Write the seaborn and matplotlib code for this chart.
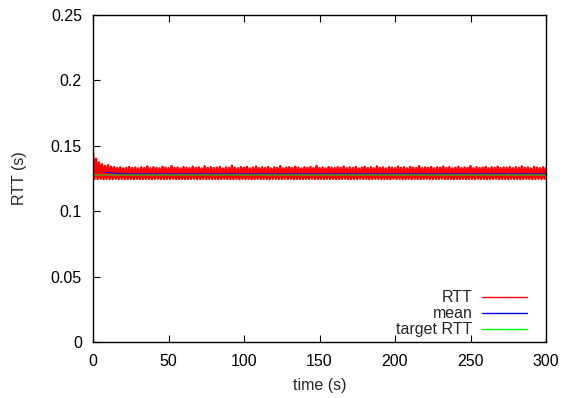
import numpy as np
import pandas as pd
import seaborn as sns
import matplotlib
matplotlib.use("Agg")
import matplotlib.pyplot as plt
from matplotlib.lines import Line2D

# ---- data ----
# RTT upper peaks, one every 2 s from t=0 to t=300
rtt_peak = [
    0.1445, 0.1400, 0.1372, 0.1358, 0.1346, 0.1351, 0.1340, 0.1336, 0.1330, 0.1334,
    0.1327, 0.1331, 0.1338, 0.1329, 0.1333, 0.1326, 0.1335, 0.1330, 0.1342, 0.1328,
    0.1336, 0.1331, 0.1327, 0.1339, 0.1333, 0.1329, 0.1345, 0.1330, 0.1334, 0.1326,
    0.1337, 0.1332, 0.1328, 0.1340, 0.1331, 0.1335, 0.1327, 0.1343, 0.1330, 0.1336,
    0.1329, 0.1333, 0.1338, 0.1326, 0.1334, 0.1330, 0.1347, 0.1331, 0.1328, 0.1336,
    0.1332, 0.1339, 0.1327, 0.1333, 0.1341, 0.1329, 0.1335, 0.1330, 0.1337, 0.1326,
    0.1334, 0.1331, 0.1344, 0.1328, 0.1333, 0.1336, 0.1329, 0.1340, 0.1332, 0.1327,
    0.1335, 0.1331, 0.1338, 0.1329, 0.1346, 0.1330, 0.1334, 0.1327, 0.1337, 0.1332,
    0.1329, 0.1336, 0.1331, 0.1341, 0.1328, 0.1334, 0.1330, 0.1338, 0.1326, 0.1333,
    0.1339, 0.1330, 0.1335, 0.1328, 0.1343, 0.1331, 0.1334, 0.1327, 0.1336, 0.1332,
    0.1329, 0.1340, 0.1331, 0.1335, 0.1327, 0.1338, 0.1333, 0.1330, 0.1344, 0.1329,
    0.1334, 0.1331, 0.1337, 0.1328, 0.1335, 0.1332, 0.1341, 0.1330, 0.1336, 0.1327,
    0.1333, 0.1339, 0.1329, 0.1334, 0.1331, 0.1345, 0.1328, 0.1336, 0.1330, 0.1333,
    0.1338, 0.1327, 0.1335, 0.1331, 0.1340, 0.1329, 0.1334, 0.1332, 0.1337, 0.1328,
    0.1336, 0.1330, 0.1342, 0.1331, 0.1334, 0.1327, 0.1338, 0.1333, 0.1329, 0.1335,
    0.1332,
]
# RTT lower floor values, one every 2 s from t=1 to t=299
rtt_floor = [
    0.1248, 0.1247, 0.1249, 0.1246, 0.1248, 0.1247, 0.1246, 0.1249, 0.1247, 0.1248,
    0.1246, 0.1247, 0.1248, 0.1246, 0.1249, 0.1247, 0.1246, 0.1248, 0.1247, 0.1246,
    0.1248, 0.1249, 0.1247, 0.1246, 0.1248, 0.1247, 0.1249, 0.1246, 0.1247, 0.1248,
    0.1246, 0.1248, 0.1247, 0.1249, 0.1246, 0.1247, 0.1248, 0.1246, 0.1249, 0.1247,
    0.1248, 0.1246, 0.1247, 0.1249, 0.1248, 0.1246, 0.1247, 0.1248, 0.1246, 0.1249,
    0.1247, 0.1248, 0.1246, 0.1247, 0.1249, 0.1246, 0.1248, 0.1247, 0.1246, 0.1248,
    0.1249, 0.1247, 0.1246, 0.1248, 0.1247, 0.1249, 0.1246, 0.1247, 0.1248, 0.1246,
    0.1248, 0.1247, 0.1249, 0.1246, 0.1247, 0.1248, 0.1246, 0.1249, 0.1247, 0.1248,
    0.1246, 0.1247, 0.1248, 0.1249, 0.1246, 0.1247, 0.1248, 0.1246, 0.1249, 0.1247,
    0.1248, 0.1246, 0.1247, 0.1249, 0.1248, 0.1246, 0.1247, 0.1248, 0.1246, 0.1249,
    0.1247, 0.1248, 0.1246, 0.1247, 0.1249, 0.1246, 0.1248, 0.1247, 0.1246, 0.1248,
    0.1249, 0.1247, 0.1246, 0.1248, 0.1247, 0.1249, 0.1246, 0.1247, 0.1248, 0.1246,
    0.1248, 0.1247, 0.1249, 0.1246, 0.1247, 0.1248, 0.1246, 0.1249, 0.1247, 0.1248,
    0.1246, 0.1247, 0.1248, 0.1249, 0.1246, 0.1247, 0.1248, 0.1246, 0.1249, 0.1247,
    0.1248, 0.1246, 0.1247, 0.1249, 0.1248, 0.1246, 0.1247, 0.1248, 0.1246, 0.1249,
]
peak_time_step = 2.0

mean_time = [8, 10, 12, 14, 16, 20, 30, 60, 120, 200, 300]
mean_rtt = [0.1297, 0.1296, 0.1294, 0.1291, 0.1288, 0.1286, 0.1285, 0.1285, 0.1285, 0.1285, 0.1285]

target_time = [0, 300]
target_rtt = [0.1280, 0.1280]

x_ticks = [0, 50, 100, 150, 200, 250, 300]
y_ticks = [0, 0.05, 0.1, 0.15, 0.2, 0.25]
y_tick_labels = ["0", "0.05", "0.1", "0.15", "0.2", "0.25"]

# ---- build RTT series (peaks at even seconds, floors at odd seconds) ----
t_peak = np.arange(len(rtt_peak)) * peak_time_step
t_floor = np.arange(len(rtt_floor)) * peak_time_step + peak_time_step / 2
rtt_df = pd.DataFrame({"time": np.concatenate([t_peak, t_floor]),
                       "rtt": np.concatenate([rtt_peak, rtt_floor])}).sort_values("time")
mean_df = pd.DataFrame({"time": mean_time, "rtt": mean_rtt})
target_df = pd.DataFrame({"time": target_time, "rtt": target_rtt})

sns.set_style("white")
plt.rcParams["font.family"] = ["Liberation Sans", "DejaVu Sans"]
FS = 11.5
plt.rcParams["font.size"] = FS

fig = plt.figure(figsize=(5.63, 3.98), dpi=100)
ax = fig.add_axes([93 / 563, 56 / 398, 453 / 563, 327 / 398])

sns.lineplot(data=rtt_df, x="time", y="rtt", ax=ax, color="#ff0000", lw=1.8,
             estimator=None, sort=False)
sns.lineplot(data=mean_df, x="time", y="rtt", ax=ax, color="#0000ff", lw=0.8,
             estimator=None)
sns.lineplot(data=target_df, x="time", y="rtt", ax=ax, color="#00ff00", lw=1.3,
             alpha=0.5, estimator=None)

ax.set_xlim(0, 300)
ax.set_ylim(0, 0.25)
ax.set_xticks(x_ticks)
ax.set_xticklabels([str(v) for v in x_ticks])
ax.set_yticks(y_ticks)
ax.set_yticklabels(y_tick_labels)
ax.set_xlabel("time (s)", fontsize=FS, labelpad=6)
ax.set_ylabel("RTT (s)", fontsize=FS, labelpad=17)

ax.tick_params(axis="x", direction="in", length=5, width=0.8, pad=9,
               top=True, bottom=True, labelsize=FS, colors="black")
ax.tick_params(axis="y", direction="in", length=5, width=0.8, pad=8,
               left=True, right=False, labelsize=FS, colors="black")
for s in ax.spines.values():
    s.set_color("black")
    s.set_linewidth(1.0)

handles = [Line2D([], [], color="#ff0000", lw=1.0),
           Line2D([], [], color="#0000ff", lw=1.0),
           Line2D([], [], color="#00ff00", lw=1.0)]
ax.legend(handles, ["RTT", "mean", "target RTT"], loc="lower right",
          bbox_to_anchor=(0.958, 0.015), borderaxespad=0, borderpad=0,
          frameon=False, markerfirst=False, handlelength=2.8,
          handletextpad=0.6, labelspacing=0.05, fontsize=FS)

fig.savefig("out.png", dpi=100)
